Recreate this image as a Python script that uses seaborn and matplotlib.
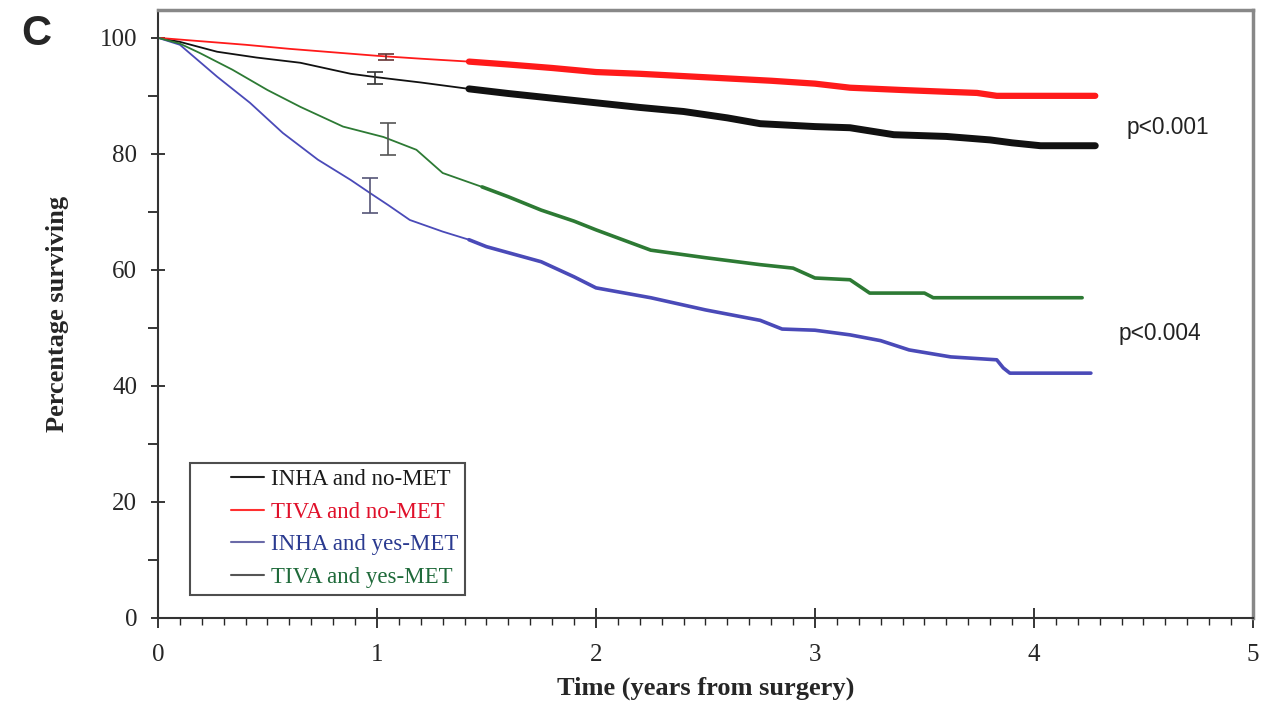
import matplotlib
matplotlib.use("Agg")
import matplotlib.pyplot as plt
import seaborn as sns
import pandas as pd
from matplotlib.ticker import MultipleLocator
from matplotlib.legend_handler import HandlerLine2D

# ---------------- data ----------------
series_names = ["INHA and no-MET", "TIVA and no-MET", "INHA and yes-MET", "TIVA and yes-MET"]

t_inha_nomet = [0, 0.1, 0.27, 0.45, 0.65, 0.88, 1.0, 1.2, 1.42, 1.6, 1.8, 2.0, 2.2, 2.4, 2.6, 2.75, 3.0, 3.16, 3.36, 3.6, 3.8, 3.9, 4.03, 4.28]
s_inha_nomet = [100, 99.3, 97.6, 96.6, 95.7, 93.8, 93.2, 92.3, 91.2, 90.4, 89.6, 88.8, 88.0, 87.3, 86.2, 85.2, 84.7, 84.5, 83.3, 83.0, 82.4, 81.9, 81.4, 81.4]

t_tiva_nomet = [0, 0.2, 0.4, 0.6, 0.8, 1.0, 1.2, 1.42, 1.6, 1.8, 2.0, 2.2, 2.4, 2.6, 2.8, 3.0, 3.16, 3.4, 3.6, 3.74, 3.83, 4.0, 4.28]
s_tiva_nomet = [100, 99.4, 98.8, 98.1, 97.5, 96.9, 96.4, 95.9, 95.4, 94.8, 94.1, 93.8, 93.4, 93.0, 92.6, 92.1, 91.4, 91.0, 90.7, 90.5, 90.0, 90.0, 90.0]

t_inha_yesmet = [0, 0.1, 0.27, 0.42, 0.57, 0.73, 0.88, 0.97, 1.05, 1.15, 1.3, 1.42, 1.5, 1.75, 1.9, 2.0, 2.25, 2.5, 2.75, 2.85, 3.0, 3.16, 3.3, 3.43, 3.62, 3.83, 3.86, 3.89, 4.26]
s_inha_yesmet = [100, 98.8, 93.3, 88.8, 83.6, 79.0, 75.5, 73.2, 71.2, 68.6, 66.6, 65.2, 64.0, 61.4, 58.8, 56.9, 55.2, 53.1, 51.3, 49.8, 49.6, 48.8, 47.8, 46.2, 45.0, 44.5, 43.1, 42.2, 42.2]

t_tiva_yesmet = [0, 0.1, 0.19, 0.34, 0.5, 0.65, 0.845, 1.03, 1.18, 1.3, 1.48, 1.6, 1.75, 1.9, 2.0, 2.25, 2.5, 2.75, 2.9, 3.0, 3.16, 3.25, 3.5, 3.54, 4.22]
s_tiva_yesmet = [100, 99.0, 97.4, 94.5, 91.0, 88.1, 84.7, 82.9, 80.7, 76.7, 74.3, 72.6, 70.3, 68.4, 66.9, 63.4, 62.1, 60.9, 60.3, 58.6, 58.3, 56.0, 56.0, 55.2, 55.2]

# error bars at ~1 year: x, y, half-width
err_x = [0.99, 1.04, 0.97, 1.05]
err_y = [93.1, 96.7, 72.8, 82.6]
err_h = [1.0, 0.45, 3.0, 2.8]

censor_start = 1.42
p_labels = ["p<0.001", "p<0.004"]
p_pos = [(4.61, 84.5), (4.575, 49.0)]

colors = ["#111111", "#ff1a1a", "#4a4ab8", "#2d7a34"]
legend_handle_colors = ["#222222", "#ff3030", "#6a6aa8", "#555555"]
legend_text_colors = ["#1a1a1a", "#e0102a", "#2a3a90", "#1f6a3a"]


class RightLine(HandlerLine2D):
    """Legend handle whose line occupies only the right half of the handle box."""
    def get_xdata(self, legend, xdescent, ydescent, width, height, fontsize):
        x0 = -xdescent + width * 0.51
        x1 = -xdescent + width
        return [x0, x1], [x0, x1]


# ---------------- figure ----------------
sns.set_style("ticks")
plt.rcParams["font.family"] = ["Liberation Serif", "DejaVu Serif"]

fig = plt.figure(figsize=(12.71, 7.02), dpi=100)
ax = fig.add_axes([0.1243, 0.1197, 0.8615, 0.8661])

data_t = [t_inha_nomet, t_tiva_nomet, t_inha_yesmet, t_tiva_yesmet]
data_s = [s_inha_nomet, s_tiva_nomet, s_inha_yesmet, s_tiva_yesmet]
thick = [5.0, 4.5, 2.6, 2.6]

for name, t, s, c, lw in zip(series_names, data_t, data_s, colors, thick):
    df = pd.DataFrame({"t": t, "s": s})
    sns.lineplot(data=df, x="t", y="s", ax=ax, color=c, lw=1.3,
                 estimator=None, sort=False, legend=False)
    dfc = df[df["t"] >= censor_start]
    sns.lineplot(data=dfc, x="t", y="s", ax=ax, color=c, lw=lw,
                 estimator=None, sort=False, legend=False)

for x, y, h, c in zip(err_x, err_y, err_h, ["#333333", "#663333", "#555577", "#555555"]):
    ax.errorbar([x], [y], yerr=[h], fmt="none", ecolor=c, elinewidth=1.2, capsize=6, capthick=1.2)

ax.set_xlim(0, 5)
ax.set_ylim(0, 104.8)
ax.xaxis.set_major_locator(MultipleLocator(1))
ax.xaxis.set_minor_locator(MultipleLocator(0.1))
ax.yaxis.set_major_locator(MultipleLocator(20))
ax.yaxis.set_minor_locator(MultipleLocator(10))
ax.tick_params(axis="x", which="major", direction="inout", length=14, width=1.3, labelsize=18, pad=12)
ax.tick_params(axis="x", which="minor", direction="out", length=5, width=1.0)
ax.tick_params(axis="y", which="major", direction="inout", length=10, width=1.3, labelsize=18, pad=10)
ax.tick_params(axis="y", which="minor", direction="out", length=7, width=1.3)

for sp in ["left", "bottom"]:
    ax.spines[sp].set_color("#333333")
    ax.spines[sp].set_linewidth(1.5)
for sp in ["top", "right"]:
    ax.spines[sp].set_color("#888888")
    ax.spines[sp].set_linewidth(2.5)

ax.set_xlabel("Time (years from surgery)", fontsize=19, fontweight="bold", labelpad=7)
ax.set_ylabel("Percentage surviving", fontsize=19, fontweight="bold", labelpad=22)

for lab, (x, y) in zip(p_labels, p_pos):
    ax.text(x, y, lab, fontsize=16.4, family=["Liberation Sans", "DejaVu Sans"],
            ha="center", va="center", color="#222222")

handles = [plt.Line2D([], [], color=c, lw=1.5) for c in legend_handle_colors]
leg = ax.legend(handles, series_names, loc="lower left", bbox_to_anchor=(0.029, 0.038),
                frameon=True, fancybox=False, fontsize=16.5, handlelength=2.95,
                handletextpad=0.3, labelspacing=0.5, borderpad=0.3, borderaxespad=0,
                handler_map={plt.Line2D: RightLine()})
leg.get_frame().set_edgecolor("#222222")
leg.get_frame().set_linewidth(1.5)
for txt, c in zip(leg.get_texts(), legend_text_colors):
    txt.set_color(c)

fig.text(0.0165, 0.951, "C", fontsize=30, fontweight="bold",
         family=["Liberation Sans", "DejaVu Sans"], ha="left", va="center")

fig.savefig("out.png", dpi=100, facecolor="white")
